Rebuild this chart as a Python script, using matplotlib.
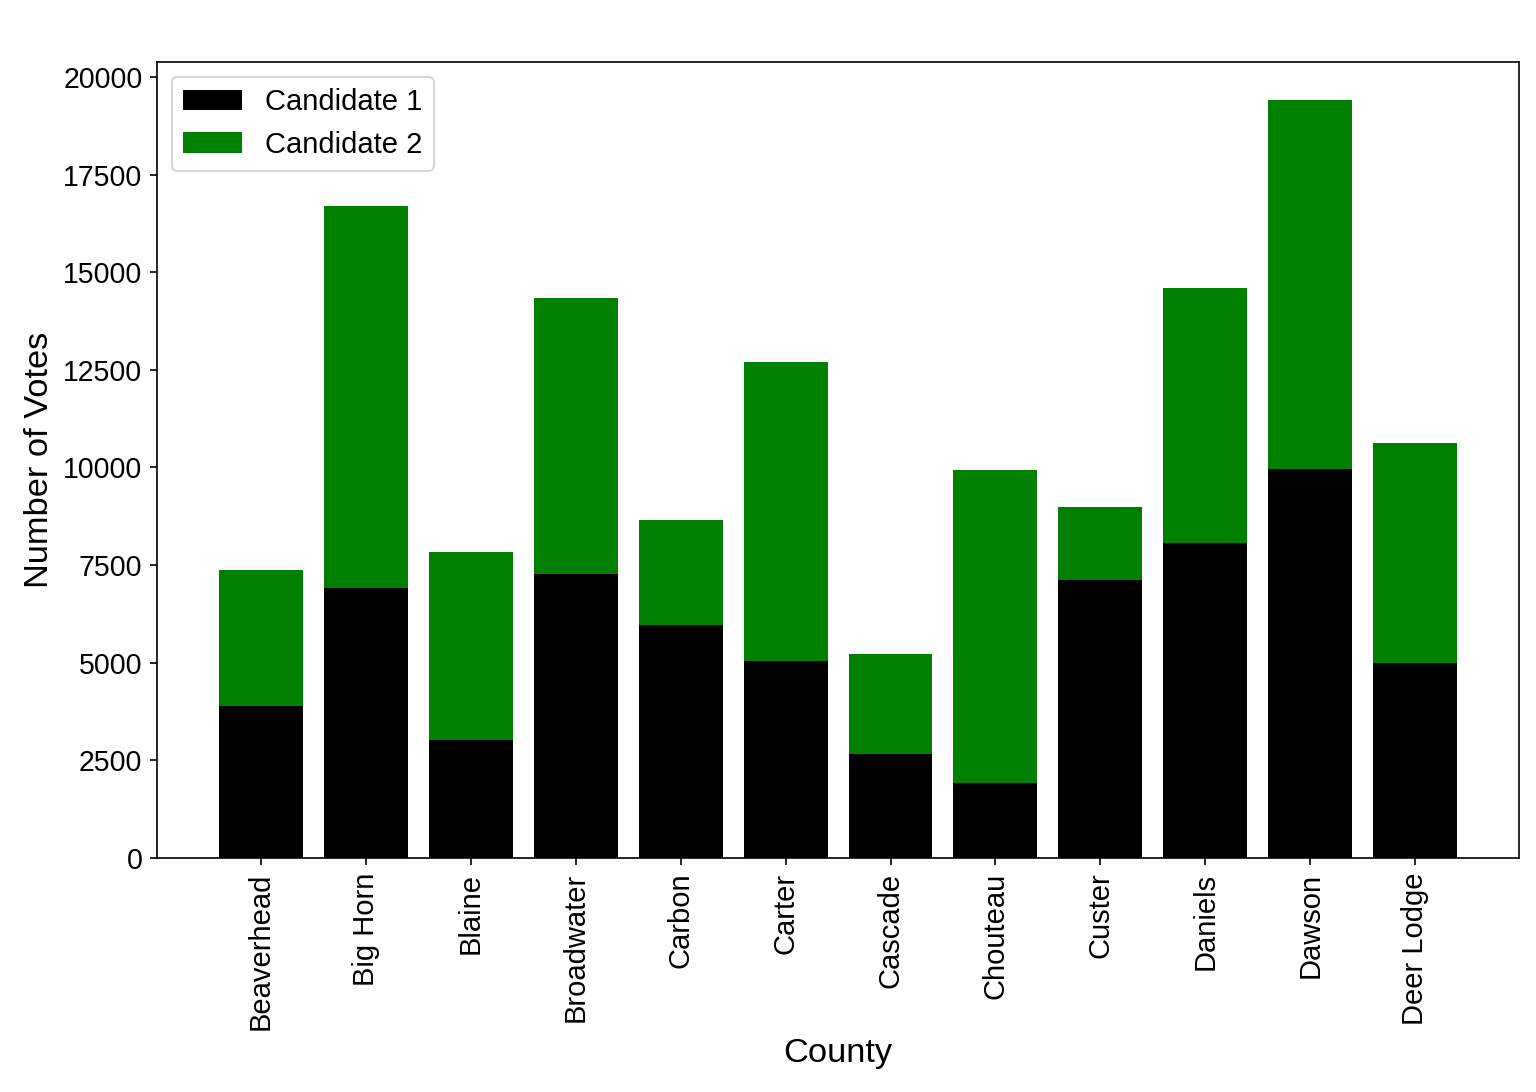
import matplotlib
matplotlib.use("Agg")
import matplotlib.pyplot as plt
import numpy as np

plt.rcParams['font.family'] = ['Liberation Sans', 'DejaVu Sans']

counties = ["Beaverhead", "Big Horn", "Blaine", "Broadwater", "Carbon", "Carter",
            "Cascade", "Chouteau", "Custer", "Daniels", "Dawson", "Deer Lodge"]
candidate1 = [3887, 6905, 3018, 7263, 5959, 5038, 2660, 1918, 7110, 8056, 9949, 4987]
totals = [7366, 16701, 7826, 14348, 8645, 12711, 5217, 9923, 8977, 14604, 19412, 10614]
candidate2 = [t - c for t, c in zip(totals, candidate1)]

fig, ax = plt.subplots(figsize=(10.24, 7.28), dpi=150)
fig.subplots_adjust(left=0.1022, right=0.989, top=0.9432, bottom=0.2143)

x = np.arange(len(counties))
ax.bar(x, candidate1, color="black", label="Candidate 1")
ax.bar(x, candidate2, bottom=candidate1, color="green", label="Candidate 2")

ax.set_xticks(x)
ax.set_xticklabels(counties, rotation=90, fontsize=14)
ax.tick_params(axis="y", labelsize=13.7)
ax.set_xlabel("County", fontsize=16.5)
ax.set_ylabel("Number of Votes", fontsize=16.5)
ax.set_title("Montana Election Results", color="white", fontsize=18)
ax.legend(fontsize=14, loc="upper left")

fig.savefig("out.png", dpi=150)
